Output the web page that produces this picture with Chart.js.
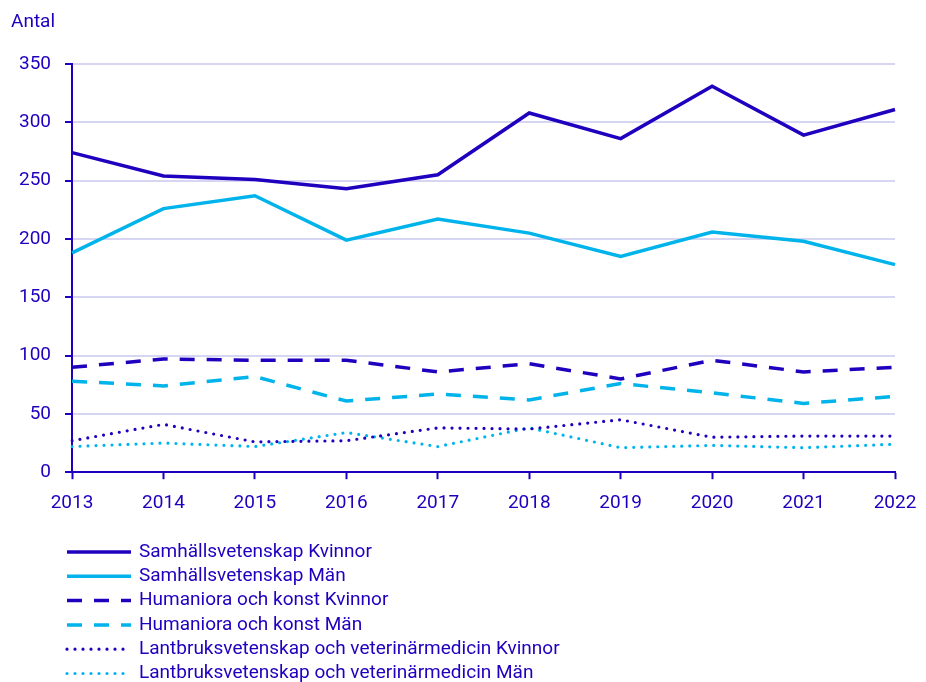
<!DOCTYPE html>
<html>
<head>
<meta charset="utf-8">
<script src="https://cdn.jsdelivr.net/npm/chart.js@4"></script>
<style>
html,body{margin:0;padding:0;background:#fff;}
#wrap{width:926px;height:682px;position:relative;}
</style>
</head>
<body>
<div id="wrap"><canvas id="c" width="926" height="682"></canvas></div>
<script>
const years = ["2013","2014","2015","2016","2017","2018","2019","2020","2021","2022"];
const samhKvinnor = [274, 254, 251, 243, 255, 308, 286, 331, 289, 311];
const samhMan = [188, 226, 237, 199, 217, 205, 185, 206, 198, 178];
const humKvinnor = [90, 97, 96, 96, 86, 93, 80, 96, 86, 90];
const humMan = [78, 74, 82, 61, 67, 62, 76, 68, 59, 65];
const lantKvinnor = [27, 41, 26, 27, 38, 37, 45, 30, 31, 31];
const lantMan = [22, 25, 22, 34, 22, 38, 21, 23, 21, 24];
const yTicks = [0, 50, 100, 150, 200, 250, 300, 350];
const seriesNames = [
  "Samhällsvetenskap Kvinnor",
  "Samhällsvetenskap Män",
  "Humaniora och konst Kvinnor",
  "Humaniora och konst Män",
  "Lantbruksvetenskap och veterinärmedicin Kvinnor",
  "Lantbruksvetenskap och veterinärmedicin Män"
];
const yTitle = "Antal";

const DARK = "#1e00be";
const LIGHT = "#00b4eb";
const GRID = "#d6d6f2";
const FONT = "Roboto, 'Liberation Sans', sans-serif";
const FS = 19;

function ds(label, data, color, kind) {
  const d = {label, data, borderColor: color, backgroundColor: color, borderWidth: 3.5,
    pointRadius: 0, pointHoverRadius: 0, tension: 0, fill: false, kind};
  if (kind === 'dash') { d.borderDash = [15, 12]; d.borderCapStyle = 'butt'; }
  if (kind === 'dot') { d.borderDash = [0, 8]; d.borderCapStyle = 'round'; d.borderWidth = 3.2; }
  return d;
}

const datasets = [
  ds(seriesNames[0], samhKvinnor, DARK, 'solid'),
  ds(seriesNames[1], samhMan, LIGHT, 'solid'),
  ds(seriesNames[2], humKvinnor, DARK, 'dash'),
  ds(seriesNames[3], humMan, LIGHT, 'dash'),
  ds(seriesNames[4], lantKvinnor, DARK, 'dot'),
  ds(seriesNames[5], lantMan, LIGHT, 'dot')
];

const extras = {
  id: 'extras',
  afterDraw(chart) {
    const ctx = chart.ctx;
    ctx.save();
    ctx.font = FS + "px " + FONT;
    ctx.fillStyle = DARK;
    ctx.textBaseline = 'middle';
    ctx.textAlign = 'left';
    ctx.fillText(yTitle, 11, 22);
    const x0 = 67, x1 = 131, tx = 139, y0 = 552, dy = 24.3;
    chart.data.datasets.forEach((d, i) => {
      const y = y0 + i * dy;
      ctx.save();
      ctx.strokeStyle = d.borderColor;
      ctx.lineWidth = d.borderWidth;
      ctx.lineCap = d.borderCapStyle || 'butt';
      ctx.setLineDash(d.borderDash || []);
      ctx.beginPath();
      ctx.moveTo(x0, y);
      ctx.lineTo(x1, y);
      ctx.stroke();
      ctx.restore();
      ctx.fillText(d.label, tx, y);
    });
    ctx.restore();
  }
};

new Chart(document.getElementById('c'), {
  type: 'line',
  data: { labels: years, datasets },
  plugins: [extras],
  options: {
    responsive: false,
    animation: false,
    layout: { padding: { left: 5, right: 31, top: 64, bottom: 154 } },
    plugins: { legend: { display: false }, tooltip: { enabled: false } },
    scales: {
      x: {
        offset: false,
        afterFit(scale) { scale.paddingRight = 0; },
        grid: { display: true, drawOnChartArea: false, tickLength: 7, tickColor: DARK, tickWidth: 2 },
        border: { display: true, color: DARK, width: 2 },
        ticks: { color: DARK, font: { family: FONT, size: FS }, padding: 13, maxRotation: 0 }
      },
      y: {
        min: 0, max: 350,
        afterBuildTicks(axis) { axis.ticks = yTicks.map(v => ({ value: v })); },
        grid: { color: GRID, lineWidth: 2, tickLength: 7, tickColor: DARK, tickWidth: 2 },
        border: { display: true, color: DARK, width: 2 },
        ticks: { color: DARK, font: { family: FONT, size: FS }, padding: 14 }
      }
    }
  }
});
</script>
</body>
</html>
